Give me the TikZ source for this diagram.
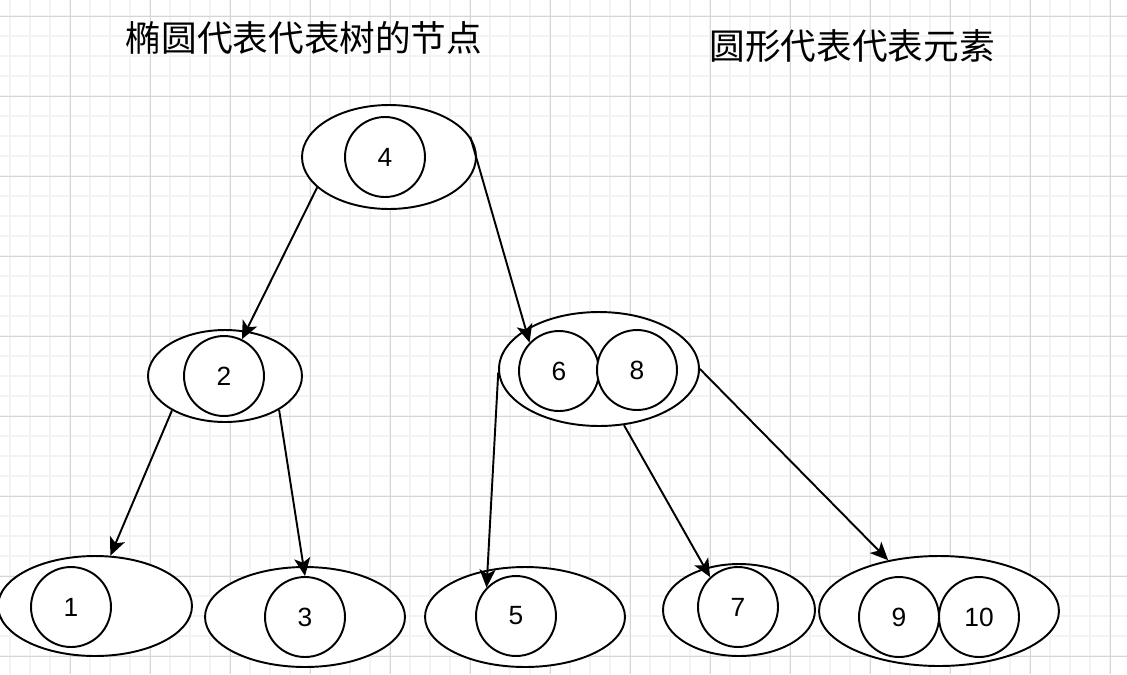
\documentclass[tikz,border=0pt]{standalone}
\usepackage{fontspec}
\setmainfont{Liberation Sans}
\newfontfamily\cjk{Noto Sans CJK SC}
\usetikzlibrary{arrows.meta,shapes.geometric}
\definecolor{GridMinor}{HTML}{F3F3F3}
\definecolor{GridMajor}{HTML}{D6D6D6}

\begin{document}
\begin{tikzpicture}[
    x=0.02cm,y=-0.02cm,
    gridminor/.style={GridMinor,line width=1pt},
    gridmajor/.style={GridMajor,line width=0.55pt},
    tnode/.style args={#1/#2}{ellipse,draw,fill=white,line width=1.1pt,inner sep=0pt,minimum width=#1,minimum height=#2},
    elem/.style={circle,draw,fill=white,line width=1.1pt,inner sep=0pt,minimum size=1.6cm,font=\fontsize{15}{18}\selectfont},
    arr/.style={-{Stealth[length=3.6mm,width=3.2mm,inset=0.9mm]},line width=1.1pt},
    title/.style={font=\cjk\fontsize{20.3}{24}\selectfont}
  ]
    \useasboundingbox (0,0) rectangle (1127,674);
    % background grid
    \foreach \x in {10,30,...,1127} \draw[gridminor] (\x,0) -- (\x,674);
    \foreach \y in {16,36,...,674} \draw[gridminor] (0,\y) -- (1127,\y);
    \foreach \x in {70,150,...,1127} \draw[gridmajor] (\x,0) -- (\x,674);
    \foreach \y in {16,96,...,674} \draw[gridmajor] (0,\y) -- (1127,\y);

    \node[title] (t1) at (304,38) {椭圆代表代表树的节点};
    \node[title] (t2) at (852,46) {圆形代表代表元素};

    % tree nodes
    \node[tnode=3.48cm/2.08cm] (e4) at (389,157) {};
    \node[tnode=3.08cm/1.84cm] (e2) at (225,376) {};
    \node[tnode=4.0cm/2.28cm] (e68) at (599,369) {};
    \node[tnode=3.88cm/2.0cm] (e1) at (95,606) {};
    \node[tnode=4.0cm/2.0cm] (e3) at (305,617) {};
    \node[tnode=4.0cm/2.0cm] (e5) at (525,617) {};
    \node[tnode=3.04cm/1.84cm] (e7) at (739,610) {};
    \node[tnode=4.8cm/2.2cm] (e910) at (939,611) {};

    % elements
    \node[elem] (c4) at (385,157) {4};
    \node[elem] (c2) at (224,376) {2};
    \node[elem] (c6) at (559,371) {6};
    \node[elem] (c8) at (637,370) {8};
    \node[elem] (c1) at (71,607) {1};
    \node[elem] (c3) at (305,617) {3};
    \node[elem] (c5) at (516,616) {5};
    \node[elem] (c7) at (738,607) {7};
    \node[elem] (c9) at (899,617) {9};
    \node[elem] (c10) at (979,617) {10};

    \draw[arr] (e4.203) -- (c2.64);
    \draw[arr] (e4.14) -- (c6.136);
    \draw[arr] (e2.213) -- (e1.73);
    \draw[arr] (e2.328) -- (c3.north);
    \draw[arr] (e68.182) -- (c5.136);
    \draw[arr] (e68.294) -- (c7.133);
    \draw[arr] (e68.east) -- (e910.135);
\end{tikzpicture}
\end{document}
